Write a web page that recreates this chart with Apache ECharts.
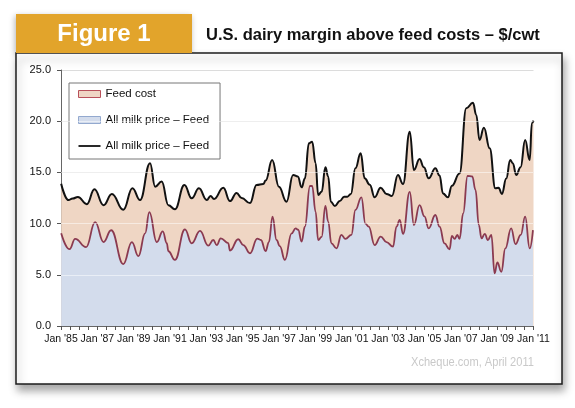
<!DOCTYPE html>
<html>
<head>
<meta charset="utf-8">
<script src="https://cdn.jsdelivr.net/npm/echarts@6/dist/echarts.min.js"></script>
<style>
html,body{margin:0;padding:0;background:#fff;}
#chart{width:575px;height:408px;}
</style>
</head>
<body>
<div id="chart"></div>
<script>
// All milk price ($/cwt): [decimal year, value]
const milkPrice = [
  [1985.01,13.9],[1985.41,12.3],[1985.64,12.45],[1985.93,12.6],[1986.42,11.9],[1986.84,13.35],
  [1987.34,11.8],[1987.80,12.9],[1988.43,11.35],[1988.93,13.45],[1989.35,12.3],[1989.90,15.9],
  [1990.18,13.6],[1990.54,14.1],[1990.91,11.8],[1991.27,11.4],[1991.79,13.77],[1992.19,12.47],
  [1992.59,13.44],[1993.02,12.3],[1993.23,12.7],[1993.42,12.4],[1993.93,13.5],[1994.30,12.2],
  [1994.66,13.0],[1994.94,12.5],[1995.40,12.0],[1995.76,13.77],[1996.13,13.87],[1996.26,14.2],
  [1996.62,16.2],[1996.99,13.6],[1997.41,12.14],[1997.77,14.75],[1998.03,14.6],[1998.24,13.54],
  [1998.42,14.4],[1998.64,17.84],[1998.82,18.0],[1999.01,15.9],[1999.15,12.8],[1999.34,13.1],
  [1999.55,15.5],[1999.70,14.6],[1999.85,12.14],[2000.07,11.72],[2000.34,12.2],[2000.58,12.63],
  [2000.76,12.63],[2000.95,12.9],[2001.20,15.4],[2001.49,16.86],[2001.71,14.42],[2001.99,13.8],
  [2002.26,12.57],[2002.59,13.5],[2002.91,12.9],[2003.21,12.7],[2003.54,14.75],[2003.82,13.87],
  [2004.19,18.98],[2004.42,15.23],[2004.73,16.3],[2004.97,15.5],[2005.23,14.42],[2005.60,15.4],
  [2005.83,14.7],[2006.02,12.95],[2006.29,12.57],[2006.51,13.7],[2006.93,14.9],[2007.30,21.26],
  [2007.67,21.8],[2007.85,20.6],[2008.03,18.16],[2008.27,19.37],[2008.59,17.35],[2008.90,13.44],
  [2009.08,13.5],[2009.26,12.9],[2009.50,14.4],[2009.72,16.2],[2009.86,15.9],[2010.05,14.75],
  [2010.29,15.5],[2010.54,18.16],[2010.79,16.2],[2010.91,19.8],[2011.00,20.05]
];
// All milk price minus feed cost ($/cwt): [decimal year, value]
const milkMinusFeed = [
  [1985.01,9.05],[1985.47,7.5],[1985.78,8.5],[1986.38,7.7],[1986.88,10.15],[1987.34,8.2],
  [1987.76,9.35],[1988.43,6.05],[1988.90,8.2],[1989.26,6.82],[1989.63,9.05],[1989.86,11.13],
  [1990.27,8.2],[1990.60,9.24],[1990.82,8.1],[1990.91,7.3],[1991.27,6.45],[1991.82,9.44],
  [1992.19,8.07],[1992.65,9.28],[1993.10,7.85],[1993.38,8.4],[1993.57,7.9],[1993.79,8.56],
  [1994.20,8.1],[1994.30,7.36],[1994.75,8.47],[1995.03,7.9],[1995.40,7.1],[1995.80,8.53],
  [1996.00,8.4],[1996.26,7.32],[1996.44,8.2],[1996.64,10.68],[1996.86,8.4],[1997.04,7.8],
  [1997.32,6.45],[1997.69,9.05],[1997.91,9.54],[1998.05,9.4],[1998.24,8.24],[1998.42,9.7],
  [1998.70,13.67],[1998.82,13.67],[1999.01,11.16],[1999.15,8.4],[1999.34,8.7],[1999.55,11.72],
  [1999.70,10.2],[1999.88,8.07],[2000.16,7.58],[2000.43,8.9],[2000.65,8.5],[2000.98,8.9],
  [2001.20,11.33],[2001.53,12.57],[2001.75,10.0],[2001.93,9.7],[2002.26,7.9],[2002.59,8.73],
  [2002.91,8.2],[2003.27,7.75],[2003.46,9.7],[2003.64,10.35],[2003.82,9.0],[2004.19,13.1],
  [2004.42,9.86],[2004.73,11.8],[2005.00,10.7],[2005.23,9.54],[2005.60,10.84],[2005.83,9.7],
  [2006.10,8.07],[2006.38,7.49],[2006.51,8.8],[2006.66,8.5],[2006.81,8.9],[2006.93,8.5],
  [2007.13,11.0],[2007.37,14.65],[2007.63,14.6],[2007.81,13.28],[2007.99,9.86],[2008.14,8.56],
  [2008.32,9.0],[2008.49,8.4],[2008.68,8.9],[2008.86,5.14],[2009.01,6.2],[2009.23,5.3],
  [2009.45,7.58],[2009.77,9.54],[2010.01,8.0],[2010.30,8.9],[2010.54,10.68],[2010.79,7.58],
  [2010.97,9.37]
];
const xTickLabels = ["Jan '85","Jan '87","Jan '89","Jan '91","Jan '93","Jan '95","Jan '97",
  "Jan '99","Jan '01","Jan '03","Jan '05","Jan '07","Jan '09","Jan '11"];
const legendLabels = {feed:'Feed cost', margin:'All milk price \u2013 Feed', milk:'All milk price \u2013 Feed'};

const SANS = '"Liberation Sans",Arial,Helvetica,sans-serif';

const chart = echarts.init(document.getElementById('chart'), null, {renderer:'canvas'});
chart.setOption({
  backgroundColor:'#fff',
  animation:false,
  graphic:[
    {type:'rect', z:-10, shape:{x:16,y:14,width:176,height:39},
      style:{fill:'#E2A42B', shadowBlur:6, shadowOffsetX:-1, shadowOffsetY:2, shadowColor:'rgba(0,0,0,0.3)'}},
    {type:'rect', z:-9, shape:{x:16,y:53,width:546,height:331},
      style:{fill:'#fff', stroke:'#1c1c1c', lineWidth:1.5, shadowBlur:8, shadowOffsetX:2, shadowOffsetY:6, shadowColor:'rgba(0,0,0,0.35)'}},
    {type:'rect', z:-8, shape:{x:16,y:14,width:176,height:39}, style:{fill:'#E2A42B'}},
    {type:'text', z:5, style:{text:'Figure 1', x:104, y:34, fill:'#fff', font:'bold 24px '+SANS, align:'center', verticalAlign:'middle'}},
    {type:'text', z:5, style:{text:'U.S. dairy margin above feed costs \u2013 $/cwt', x:206, y:35, fill:'#111', font:'bold 16.5px '+SANS, align:'left', verticalAlign:'middle'}},
    {type:'text', z:5, x:411, y:362, scaleX:0.82, style:{text:'Xcheque.com, April 2011', x:0, y:0, fill:'#c9c9c9', font:'13.5px '+SANS, align:'left', verticalAlign:'middle'}}
  ],
  grid:{left:61, right:41.5, top:70, bottom:82, containLabel:false},
  legend:{
    orient:'vertical', left:69, top:83,
    padding:[4,11,6,9], itemGap:12, itemWidth:22, itemHeight:7,
    backgroundColor:'#fff', borderColor:'#777', borderWidth:1,
    textStyle:{fontSize:11.5, fontFamily:SANS, color:'#111', lineHeight:14},
    formatter:function(n){return legendLabels[n];},
    selectedMode:false,
    data:[
      {name:'feed', icon:'rect', itemStyle:{color:'#EFD6C4', borderColor:'#B8505A', borderWidth:1}},
      {name:'margin', icon:'rect', itemStyle:{color:'#D3DCEC', borderColor:'#93A9CF', borderWidth:1}},
      {name:'milk', icon:'path://M0,0L22,0L22,1.8L0,1.8Z', itemStyle:{color:'#111', borderWidth:0}}
    ]
  },
  xAxis:{
    type:'value', min:1985, max:2011, interval:0.5,
    axisLine:{show:true, lineStyle:{color:'#666', width:1}},
    axisTick:{show:true, length:4, lineStyle:{color:'#555'}},
    splitLine:{show:false},
    axisLabel:{
      margin:8, fontSize:10.5, fontFamily:SANS, color:'#111',
      formatter:function(v){
        const r = Math.round(v*2)/2;
        if (Number.isInteger(r) && (r-1985)%2===0) return xTickLabels[(r-1985)/2];
        return '';
      }
    }
  },
  yAxis:{
    type:'value', min:0, max:25, interval:5,
    axisLine:{show:true, lineStyle:{color:'#666', width:1}},
    axisTick:{show:true, length:4, lineStyle:{color:'#555'}},
    splitLine:{show:true, lineStyle:{color:'#dcdcdc', width:1}},
    axisLabel:{margin:10, fontSize:11, fontFamily:SANS, color:'#111', formatter:function(v){return v.toFixed(1);}}
  },
  series:[
    {name:'feed', type:'line', data:milkPrice, smooth:0.45, smoothMonotone:'x', symbol:'none',
      lineStyle:{opacity:0, width:0}, itemStyle:{color:'#EFD6C4'},
      areaStyle:{color:'#EFD6C4', opacity:1}, z:2, silent:true},
    {name:'margin', type:'line', data:milkMinusFeed, smooth:0.45, smoothMonotone:'x', symbol:'none',
      lineStyle:{color:'#8B3A50', width:1.8}, itemStyle:{color:'#D3DCEC'},
      areaStyle:{color:'#D3DCEC', opacity:1}, z:3, silent:true,
      markLine:{silent:true, symbol:'none', label:{show:false},
        lineStyle:{color:'rgba(255,255,255,0.5)', width:1, type:'solid'},
        data:[{yAxis:5},{yAxis:10},{yAxis:15},{yAxis:20}]}},
    {name:'milk', type:'line', data:milkPrice, smooth:0.45, smoothMonotone:'x', symbol:'none',
      lineStyle:{color:'#111', width:2}, itemStyle:{color:'#111'}, z:4, silent:true}
  ]
});
</script>
</body>
</html>
